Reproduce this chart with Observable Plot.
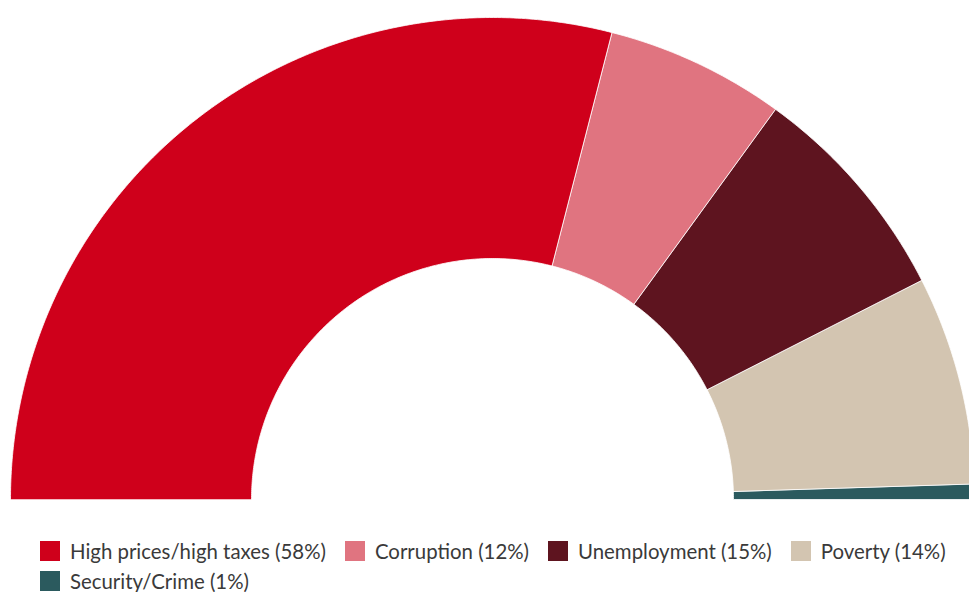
<!DOCTYPE html>
<html>
<head>
<meta charset="utf-8">
<script src="https://cdn.jsdelivr.net/npm/d3@7"></script>
<script src="https://cdn.jsdelivr.net/npm/@observablehq/plot@0.6"></script>
<style>
  html, body { margin: 0; padding: 0; background: #fff; }
  #chart svg { display: block; }
  #legend { margin: 24px 0 0 40px; }
  #legend > div { font-family: Lato, sans-serif !important; font-size: 20.4px !important; color: #3a3a3a; row-gap: 8px; margin: 0; }
  #legend span { margin-right: 19px !important; line-height: 22px; }
  #legend span > svg { margin-right: 10px !important; }
</style>
</head>
<body>
<div id="chart"></div>
<div id="legend"></div>
<script>
const categories = ["High prices/high taxes", "Corruption", "Unemployment", "Poverty", "Security/Crime"];
const values = [58, 12, 15, 14, 1];
const colors = ["#cf001b", "#e07480", "#5e141f", "#d3c5b1", "#2b5a5e"];
const innerRatio = 0.5;

// build slice outlines (half donut, from left to right)
const total = d3.sum(values);
const pts = [];
let acc = 0;
categories.forEach((c, i) => {
  const a0 = Math.PI * (1 - acc / total);
  acc += values[i];
  const a1 = Math.PI * (1 - acc / total);
  const n = Math.max(4, Math.ceil(Math.abs(a0 - a1) * 120));
  for (let k = 0; k <= n; k++) {
    const a = a0 + (a1 - a0) * k / n;
    pts.push({cat: c, x: Math.cos(a), y: Math.sin(a)});
  }
  for (let k = n; k >= 0; k--) {
    const a = a0 + (a1 - a0) * k / n;
    pts.push({cat: c, x: innerRatio * Math.cos(a), y: innerRatio * Math.sin(a)});
  }
});

const chart = Plot.plot({
  width: 969,
  height: 516,
  margin: 0,
  x: {domain: [-1, 1], range: [10, 974], axis: null},
  y: {domain: [0, 1], range: [499, 17], axis: null},
  color: {type: "ordinal", domain: categories, range: colors},
  marks: [
    Plot.line(pts, {x: "x", y: "y", z: "cat", fill: "cat", stroke: "#ffffff", strokeWidth: 0.8, curve: "linear-closed"})
  ]
});
document.getElementById("chart").append(chart);

const legend = chart.legend("color", {
  swatchSize: 20,
  tickFormat: d => `${d} (${values[categories.indexOf(d)]}%)`
});
document.getElementById("legend").append(legend);
</script>
</body>
</html>
